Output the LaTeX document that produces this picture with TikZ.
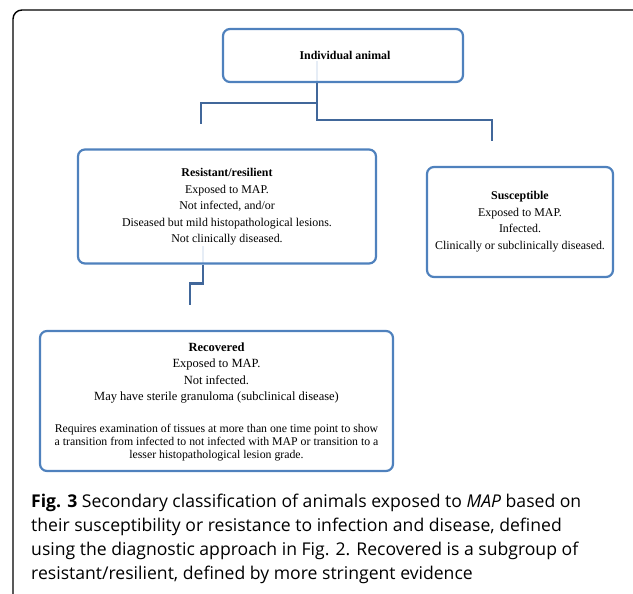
\documentclass[tikz,border=0pt]{standalone}
\usepackage{fontspec}
\setmainfont{Liberation Serif}
\newfontfamily\capfont{Open Sans}
\definecolor{boxblue}{HTML}{4F81BD}
\definecolor{connblue}{HTML}{41679A}
\definecolor{faint}{HTML}{E6EDF6}
\begin{document}
\begin{tikzpicture}[x=1pt,y=-1pt,
  box/.style={draw=boxblue, line width=2.2pt, rounded corners=7pt, inner sep=0pt},
  conn/.style={draw=connblue, line width=2.4pt},
  fline/.style={draw=faint, line width=2pt},
  txt/.style={align=center, inner sep=0pt, font=\fontsize{11.9}{16.5}\selectfont},
  txtr/.style={align=center, inner sep=0pt, font=\fontsize{12.5}{16.5}\selectfont},
  txtb/.style={align=center, inner sep=0pt, font=\fontsize{11.8}{13}\selectfont},
  captext/.style={anchor=base west, inner sep=0pt, font=\capfont\fontsize{17.6}{24}\selectfont}]
\useasboundingbox (0,0) rectangle (633,594);
\begin{scope}
\clip (0,0) rectangle (633,594);
\draw[line width=1.4pt, rounded corners=9pt] (13,10) rectangle (642,620);
\end{scope}
% faint lines
\draw[fline] (317,61) -- (317,82);
\draw[fline] (203,246) -- (203,263);
% boxes
\node[box, minimum width=240pt, minimum height=53pt] (ind) at (343,55.5) {};
\node[txt, font=\fontsize{11.9}{16.5}\selectfont\bfseries] (indt) at (345,55) {Individual animal};
\node[box, minimum width=298pt, minimum height=114pt] (res) at (227,206.5) {};
\node[txt] (rest) at (227,207) {\textbf{Resistant/resilient}\\Exposed to MAP.\\Not infected, and/or\\Diseased but mild histopathological lesions.\\Not clinically diseased.};
\node[box, minimum width=186pt, minimum height=110pt] (sus) at (520,222) {};
\node[txt] (sust) at (520,221.5) {\textbf{Susceptible}\\Exposed to MAP.\\Infected.\\Clinically or subclinically diseased.};
\node[box, minimum width=353pt, minimum height=140pt] (rec) at (216.5,401) {};
\node[txtr] (rect) at (216.5,373) {\textbf{Recovered}\\Exposed to MAP.\\Not infected.\\May have sterile granuloma (subclinical disease)};
\node[txtb] (recb) at (216.5,443) {Requires examination of tissues at more than one time point to show\\a transition from infected to not infected with MAP or transition to a\\lesser histopathological lesion grade.};
% connectors
\coordinate (a0) at ([xshift=-26pt]ind.south);
\coordinate (endL) at (201,124);
\coordinate (endR) at (492,141);
\draw[conn] (a0) -- ++(0,20) -| (endL);
\draw[conn] (a0) -- ++(0,37) -| (endR);
\coordinate (b0) at ([xshift=-24pt]res.south);
\coordinate (endB) at (190,305);
\draw[conn] (b0) -- ++(0,19) -| (endB);
% caption
\node[captext] (c1) at (31,507) {\textbf{Fig. 3} Secondary classification of animals exposed to \textit{MAP} based on};
\node[captext] (c2) at (31,531) {their susceptibility or resistance to infection and disease, defined};
\node[captext] (c3) at (31,555.5) {using the diagnostic approach in Fig. 2. Recovered is a subgroup of};
\node[captext] (c4) at (31,579.5) {resistant/resilient, defined by more stringent evidence};
\end{tikzpicture}
\end{document}
